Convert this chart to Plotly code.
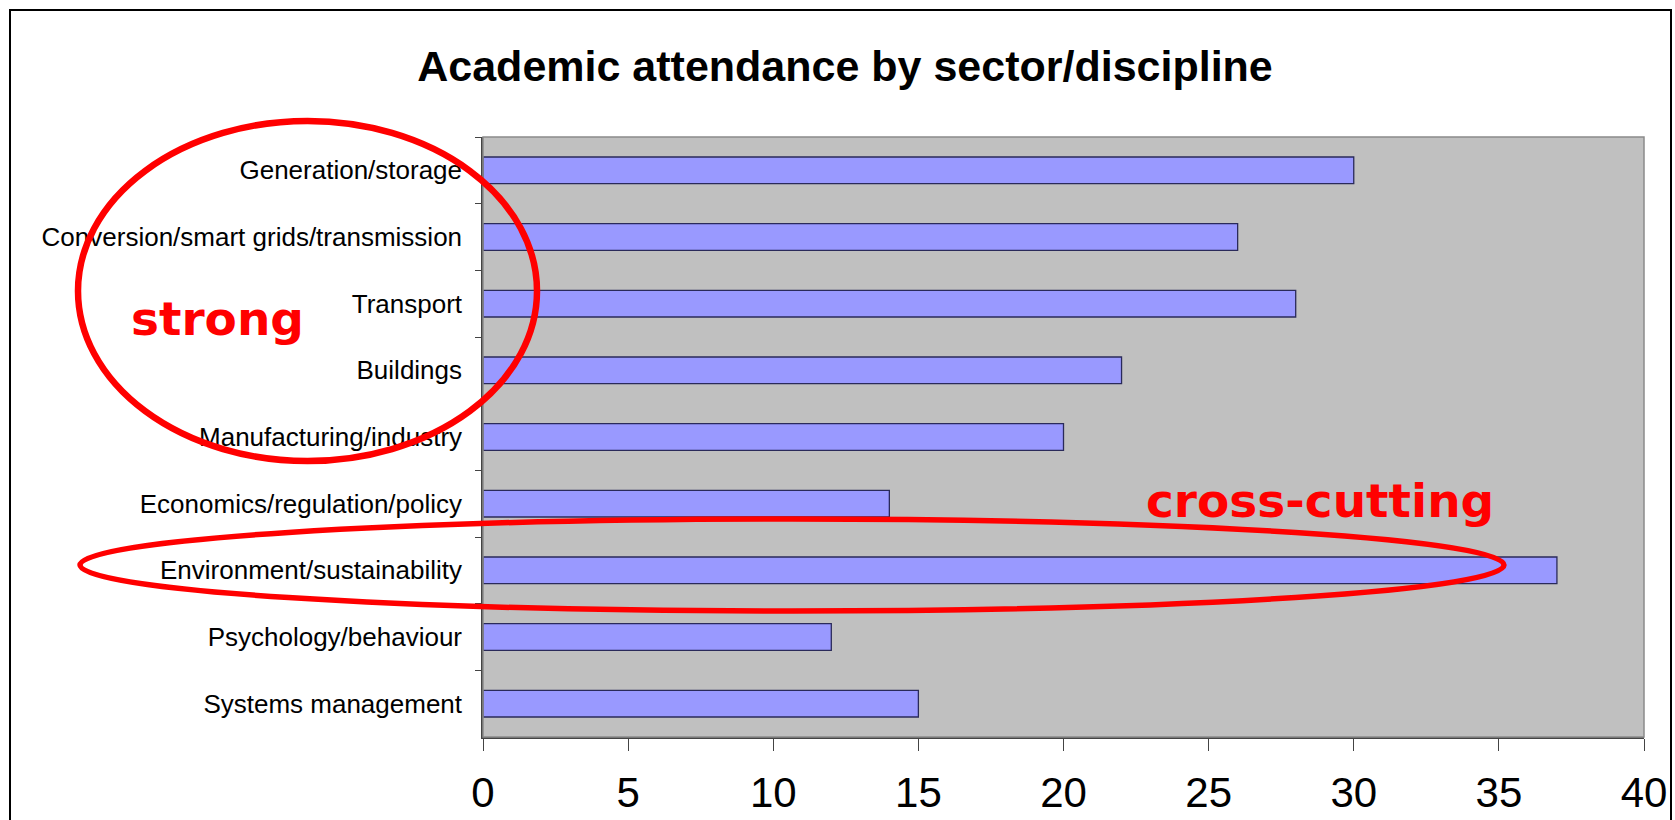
import plotly.graph_objects as go

categories = [
    "Generation/storage",
    "Conversion/smart grids/transmission",
    "Transport",
    "Buildings",
    "Manufacturing/industry",
    "Economics/regulation/policy",
    "Environment/sustainability",
    "Psychology/behaviour",
    "Systems management",
]
attendance = [30, 26, 28, 22, 20, 14, 37, 12, 15]
x_ticks = [0, 5, 10, 15, 20, 25, 30, 35, 40]
title_text = "Academic attendance by sector/discipline"
note_strong = "strong"
note_cross = "cross-cutting"

W, H = 1675, 820
L, R, T, B = 483, 1644, 137, 737


def px(x):
    return (x - L) / (R - L)


def py(y):
    return (B - y) / (B - T)


fig = go.Figure()
fig.add_trace(go.Bar(
    y=categories,
    x=attendance,
    orientation="h",
    marker=dict(color="#9999FF", line=dict(color="#2A2A5A", width=1.3)),
    showlegend=False,
    hoverinfo="x+y",
))

shapes = [
    # outer chart frame
    dict(type="rect", xref="paper", yref="paper",
         x0=px(10), x1=px(1671), y0=py(10), y1=py(840),
         line=dict(color="#000000", width=2), fillcolor="rgba(0,0,0,0)", layer="above"),
    # plot area border
    dict(type="rect", xref="paper", yref="paper",
         x0=0, x1=1, y0=0, y1=1,
         line=dict(color="#8A8A8A", width=1.5), fillcolor="rgba(0,0,0,0)", layer="above"),
    # red ellipses
    dict(type="circle", xref="paper", yref="paper",
         x0=px(78), x1=px(537), y0=py(461), y1=py(121),
         line=dict(color="#FF0000", width=6.5), layer="above"),
    dict(type="circle", xref="paper", yref="paper",
         x0=px(80), x1=px(1504), y0=py(611), y1=py(519),
         line=dict(color="#FF0000", width=5.5), layer="above"),
]

annotations = [
    dict(text=note_strong, xref="paper", yref="paper", x=px(217), y=py(318),
         xanchor="center", yanchor="middle", showarrow=False,
         font=dict(family="DejaVu Sans", size=47, color="#FF0000", weight="bold")),
    dict(text=note_cross, xref="paper", yref="paper", x=px(1320), y=py(500),
         xanchor="center", yanchor="middle", showarrow=False,
         font=dict(family="DejaVu Sans", size=47, color="#FF0000", weight="bold")),
]

fig.update_layout(
    width=W, height=H,
    margin=dict(l=L, r=W - R, t=T, b=H - B, pad=0, autoexpand=False),
    paper_bgcolor="#FFFFFF",
    plot_bgcolor="#C0C0C0",
    bargap=0.6,
    title=dict(text="<b>" + title_text + "</b>", xref="container", yref="container",
               x=845 / W, y=1 - 66 / H, xanchor="center", yanchor="middle",
               font=dict(family="Liberation Sans, Arial", size=43, color="#000000")),
    xaxis=dict(
        automargin=False,
        range=[0, 40], tickvals=x_ticks, ticktext=[str(v) for v in x_ticks],
        showgrid=False, zeroline=False,
        showline=True, linecolor="#444444", linewidth=2,
        ticks="outside", ticklen=12, tickwidth=1, tickcolor="#444444",
        ticklabelstandoff=6,
        tickfont=dict(family="Liberation Sans Narrow, Arial Narrow, Liberation Sans", size=42, color="#000000"),
        fixedrange=True,
    ),
    yaxis=dict(
        automargin=False,
        type="category", categoryorder="array", categoryarray=categories,
        autorange="reversed",
        showgrid=False, zeroline=False,
        showline=True, linecolor="#444444", linewidth=1.5,
        ticks="outside", tickson="boundaries", ticklen=6, tickwidth=1, tickcolor="#444444",
        ticklabelstandoff=14,
        tickfont=dict(family="Liberation Sans, Arial", size=26, color="#000000"),
        fixedrange=True,
    ),
    shapes=shapes,
    annotations=annotations,
)

fig.write_html("out.html", config={"displayModeBar": False},
               post_script="document.body.style.margin='0';")
